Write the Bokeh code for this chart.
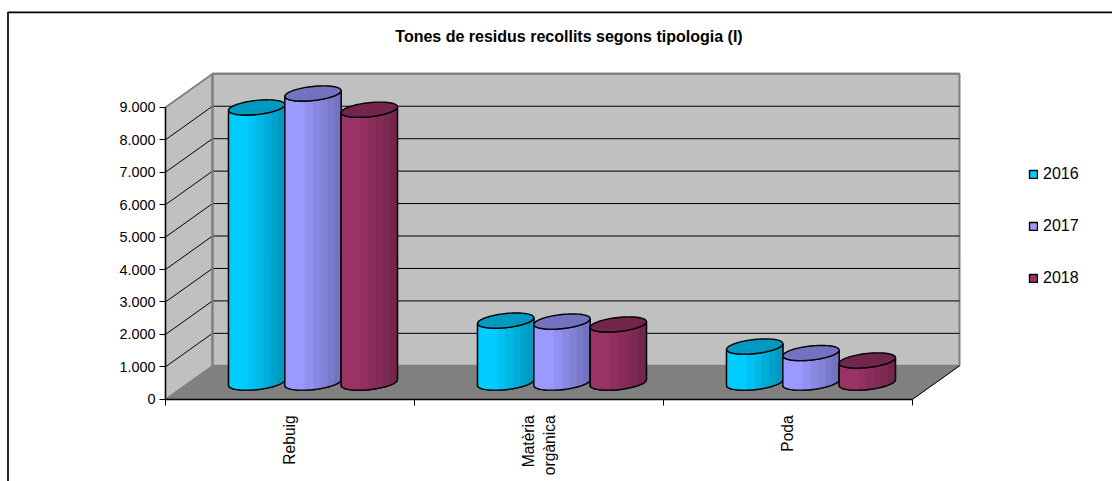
import numpy as np
from bokeh.embed import file_html
from bokeh.resources import INLINE
from bokeh.plotting import figure
from bokeh.models import ColumnDataSource, FixedTicker, Legend, LegendItem, Label, Range1d

# ---- chart data ----
CATEGORIES = ["Rebuig", "Matèria\norgànica", "Poda"]
YEARS = ["2016", "2017", "2018"]
V2016 = [8480, 1910, 1110]
V2017 = [8910, 1880, 910]
V2018 = [8410, 1790, 680]
SERIES = [V2016, V2017, V2018]
Y_TICKS = [0, 1000, 2000, 3000, 4000, 5000, 6000, 7000, 8000, 9000]
Y_LABELS = ["0", "1.000", "2.000", "3.000", "4.000", "5.000", "6.000", "7.000", "8.000", "9.000"]
TITLE = "Tones de residus recollits segons tipologia (I)"
BASE = ["#00CCFF", "#9999FF", "#993366"]
DARK = ["#0099BF", "#7272BF", "#72264C"]
FONT = "Liberation Sans"

# ---- layout ----
W, H = 1112, 481
X0_PX, Y0_PX = 165.0, 398.8      # pixel of the plot origin
PX_PER_CAT = 249.0
PX_PER_VAL = 292.0 / 9000.0


def dx_px(px):
    return (px - X0_PX) / PX_PER_CAT


def dy_px(py):
    return (Y0_PX - py) / PX_PER_VAL


DX = 47.0 / PX_PER_CAT
DY = 33.5 / PX_PER_VAL
BAR_W = 56.3 / PX_PER_CAT
BAR_SHIFT = -0.5 / PX_PER_CAT
DEPTH_R = 0.227

p = figure(width=W, height=H, output_backend="svg", toolbar_location=None,
           x_range=Range1d(dx_px(0), dx_px(W)), y_range=Range1d(dy_px(H), dy_px(0)),
           min_border=0, background_fill_color="white", border_fill_color="white",
           outline_line_color=None)
p.grid.visible = False
p.title = None

# outer chart frame: only its top and left edges lie in the picture
p.line([dx_px(7.5), dx_px(7.5), dx_px(W)], [dy_px(H), dy_px(11.8), dy_px(11.8)],
       line_color="black", line_width=1.7)

p.add_layout(Label(x=dx_px(568.5), y=dy_px(36), text=TITLE, text_font=FONT, text_font_size="16px",
                   text_font_style="bold", text_color="black", text_align="center",
                   text_baseline="middle"))

# walls
n = len(CATEGORIES)
top = Y_TICKS[-1]
p.patch([0, DX, DX, 0], [0, DY, top + DY, top], fill_color="#C0C0C0", line_color="#808080", line_width=1.5)
p.patch([DX, n + DX, n + DX, DX], [DY, DY, top + DY, top + DY], fill_color="#C0C0C0",
        line_color="#808080", line_width=2)
for v in Y_TICKS[1:-1]:
    p.line([0, DX, n + DX], [v, v + DY, v + DY], line_color="black", line_width=1)
p.line([0, DX], [top, top + DY], line_color="#808080", line_width=1.5)
p.line([DX, DX], [DY, top + DY], line_color="#808080", line_width=2)
p.line([DX, n + DX], [top + DY, top + DY], line_color="#808080", line_width=2)
p.patch([0, n, n + DX, DX], [0, 0, DY, DY], fill_color="#808080", line_color="#808080", line_width=1)
p.line([n, n + DX], [0, DY], line_color="black", line_width=1)

# axes
yax = p.yaxis[0]
yax.fixed_location = 0
yax.ticker = FixedTicker(ticks=Y_TICKS)
yax.major_label_overrides = dict(zip(Y_TICKS, Y_LABELS))
yax.bounds = (0, 9000)
yax.major_tick_out = 6
yax.major_tick_in = 0
yax.minor_tick_line_color = None
yax.axis_line_color = "black"
yax.axis_line_width = 1.4
yax.major_tick_line_color = "black"
yax.major_label_text_font = FONT
yax.major_label_text_font_size = "14.4px"
yax.major_label_text_color = "black"
yax.major_label_standoff = 4

xax = p.xaxis[0]
xax.fixed_location = 0
centers = [i + 0.5 for i in range(n)]
xax.ticker = FixedTicker(ticks=centers, minor_ticks=list(range(n + 1)))
xax.major_label_overrides = dict(zip(centers, CATEGORIES))
xax.bounds = (0, n)
xax.major_tick_line_color = None
xax.major_tick_out = 6
xax.major_tick_in = 0
xax.minor_tick_out = 6
xax.minor_tick_in = 0
xax.minor_tick_line_color = "black"
xax.axis_line_color = "black"
xax.axis_line_width = 1.4
xax.major_label_orientation = np.pi / 2
xax.major_label_text_font = FONT
xax.major_label_text_font_size = "15.6px"
xax.major_label_text_color = "black"
xax.major_label_standoff = 10


def mix(a, b, f):
    ca = [int(a[i:i + 2], 16) for i in (1, 3, 5)]
    cb = [int(b[i:i + 2], 16) for i in (1, 3, 5)]
    return "#%02X%02X%02X" % tuple(round(x + (y - x) * f) for x, y in zip(ca, cb))


A = BAR_W / 2
B = DEPTH_R * DX
C = DEPTH_R * DY
a = np.sqrt(A ** 2 - B ** 2)
PHI = np.arctan2(B, a)
BANDS = [0, 0.36, 0.5, 0.63, 0.76, 0.88, 1.0]


def arc(cx, cy, us):
    return cx + A * np.cos(us), cy + C * np.sin(us + PHI)


legend_items = []
for j, vals in enumerate(SERIES):
    sil_x, sil_y, cap_x, cap_y, sx, sy, sc = [], [], [], [], [], [], []
    for i, v in enumerate(vals):
        cx = i + 0.5 + (j - 1) * BAR_W + DX / 2 + BAR_SHIFT
        y0, y1 = DY / 2, DY / 2 + v
        us = np.linspace(np.pi, 2 * np.pi, 40)
        bx, by = arc(cx, y0, us)
        tx, ty = arc(cx, y1, us[::-1])
        sil_x.append(np.r_[bx, tx].tolist())
        sil_y.append(np.r_[by, ty].tolist())
        full = np.linspace(0, 2 * np.pi, 73)
        cap_x.append(arc(cx, y1, full)[0].tolist())
        cap_y.append(arc(cx, y1, full)[1].tolist())
        for k in range(len(BANDS) - 1):
            f = np.linspace(BANDS[k], BANDS[k + 1], 10)
            u = 2 * np.pi - np.arccos(2 * f - 1)
            lx, ly = arc(cx, y0, u)
            hx, hy = arc(cx, y1, u[::-1])
            sx.append(np.r_[lx, hx].tolist())
            sy.append(np.r_[ly, hy].tolist())
            sc.append(mix(BASE[j], DARK[j], k / (len(BANDS) - 2)))
    sil_src = ColumnDataSource(dict(xs=sil_x, ys=sil_y))
    base = p.patches("xs", "ys", source=sil_src, fill_color=BASE[j], line_color="black", line_width=1.4)
    p.patches("xs", "ys", source=ColumnDataSource(dict(xs=sx, ys=sy, c=sc)), fill_color="c", line_color="c", line_width=0.5)
    p.patches("xs", "ys", source=sil_src, fill_color=None, line_color="black", line_width=1.4)
    p.patches("xs", "ys", source=ColumnDataSource(dict(xs=cap_x, ys=cap_y)), fill_color=DARK[j],
              line_color="black", line_width=1.4)
    legend_items.append(LegendItem(label=YEARS[j], renderers=[base]))

legend = Legend(items=legend_items, location=(1028, 193), orientation="vertical",
                background_fill_color=None, border_line_color=None, padding=0, margin=0,
                spacing=32, glyph_width=10, glyph_height=10, label_standoff=5, label_height=20,
                label_text_font=FONT, label_text_font_size="16px", label_text_color="black")
p.add_layout(legend, "center")

open("out.html", "w").write(file_html(p, INLINE))
